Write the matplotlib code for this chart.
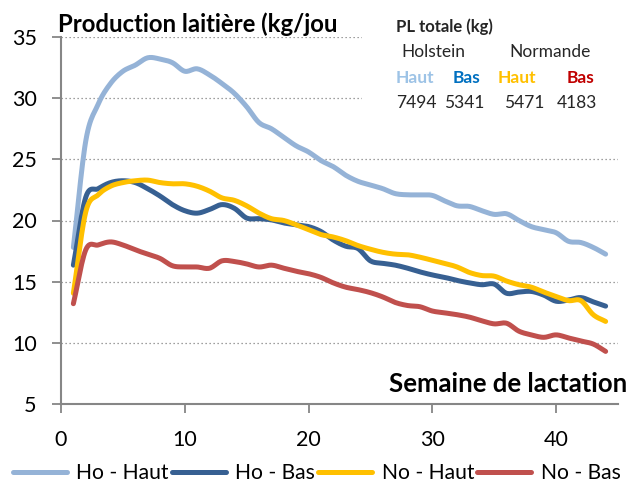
import numpy as np
import matplotlib
matplotlib.use("Agg")
import matplotlib.pyplot as plt
from matplotlib.lines import Line2D
from matplotlib.patches import Rectangle

weeks = list(range(1, 45))
ho_haut = [17.8, 26.5, 29.5, 31.2, 32.2, 32.7, 33.3, 33.2, 32.9, 32.2,
           32.4, 31.9, 31.2, 30.4, 29.3, 28.0, 27.5, 26.8, 26.1, 25.6,
           24.9, 24.4, 23.7, 23.2, 22.9, 22.6, 22.2, 22.1, 22.1, 22.05,
           21.6, 21.2, 21.15, 20.8, 20.5, 20.55, 20.0, 19.5, 19.25, 19.0,
           18.3, 18.2, 17.8, 17.25]
ho_bas = [16.35, 21.9, 22.6, 23.1, 23.25, 23.1, 22.6, 22.0, 21.3, 20.8,
          20.6, 20.9, 21.3, 21.0, 20.2, 20.15, 20.05, 19.8, 19.65, 19.5,
          19.1, 18.4, 17.9, 17.7, 16.7, 16.5, 16.35, 16.1, 15.8, 15.55,
          15.35, 15.1, 14.9, 14.75, 14.8, 14.05, 14.15, 14.2, 13.9, 13.4,
          13.5, 13.7, 13.35, 13.0]
no_haut = [14.05, 20.7, 22.1, 22.8, 23.1, 23.25, 23.3, 23.1, 23.0, 23.0,
           22.8, 22.4, 21.85, 21.65, 21.2, 20.6, 20.15, 20.0, 19.65, 19.25,
           18.85, 18.65, 18.35, 17.95, 17.65, 17.4, 17.25, 17.2, 17.0, 16.75,
           16.5, 16.2, 15.75, 15.5, 15.45, 15.05, 14.75, 14.55, 14.15, 13.8,
           13.45, 13.45, 12.3, 11.75]
no_bas = [13.2, 17.6, 18.0, 18.25, 18.0, 17.6, 17.25, 16.9, 16.3, 16.2,
          16.2, 16.1, 16.7, 16.65, 16.45, 16.2, 16.35, 16.1, 15.85, 15.65,
          15.35, 14.9, 14.55, 14.35, 14.1, 13.75, 13.3, 13.05, 12.95, 12.6,
          12.45, 12.3, 12.1, 11.8, 11.55, 11.6, 10.95, 10.65, 10.45, 10.65,
          10.4, 10.15, 9.9, 9.3]

series_names = ["Ho - Haut", "Ho - Bas", "No - Haut", "No - Bas"]
series_colors = ["#95B3D7", "#376092", "#FFC000", "#C0504D"]

x_ticks = [0, 10, 20, 30, 40]
y_ticks = [5, 10, 15, 20, 25, 30, 35]

title_text = "Production laitière (kg/jou"
xlabel_text = "Semaine de lactation"
box_title = "PL totale (kg)"
breeds = ["Holstein", "Normande"]
levels = ["Haut", "Bas", "Haut", "Bas"]
level_colors = ["#9DC3E6", "#0070C0", "#FFC000", "#C00000"]
totals = ["7494", "5341", "5471", "4183"]

FONT = "Lato"
plt.rcParams["font.family"] = [FONT, "DejaVu Sans"]


def smooth(x, y, n=12):
    """Catmull-Rom style smoothing of the drawn path (like Excel smoothed lines)."""
    x = np.asarray(x, float)
    y = np.asarray(y, float)
    px = np.concatenate([[2 * x[0] - x[1]], x, [2 * x[-1] - x[-2]]])
    py = np.concatenate([[2 * y[0] - y[1]], y, [2 * y[-1] - y[-2]]])
    xs, ys = [], []
    t = np.linspace(0, 1, n, endpoint=False)
    for i in range(1, len(px) - 2):
        p0, p1, p2, p3 = px[i - 1], px[i], px[i + 1], px[i + 2]
        q0, q1, q2, q3 = py[i - 1], py[i], py[i + 1], py[i + 2]
        bx = [p1, p1 + (p2 - p0) / 6, p2 - (p3 - p1) / 6, p2]
        by = [q1, q1 + (q2 - q0) / 6, q2 - (q3 - q1) / 6, q2]
        for arr, b in ((xs, bx), (ys, by)):
            arr.extend((1 - t) ** 3 * b[0] + 3 * (1 - t) ** 2 * t * b[1]
                       + 3 * (1 - t) * t ** 2 * b[2] + t ** 3 * b[3])
    xs.append(x[-1])
    ys.append(y[-1])
    return np.array(xs), np.array(ys)


W, H = 633, 484
fig = plt.figure(figsize=(W / 100, H / 100), dpi=100)
ax = fig.add_axes([61 / W, 1 - 404 / H, (618 - 61) / W, (404 - 37) / H])

for vals, col in zip([ho_haut, ho_bas, no_haut, no_bas], series_colors):
    sx, sy = smooth(weeks, vals)
    ax.plot(sx, sy, color=col, lw=3.6, solid_capstyle="round",
            solid_joinstyle="round", zorder=3)

ax.set_xlim(0, 45)
ax.set_ylim(5, 35)
ax.set_xticks(x_ticks)
ax.set_yticks(y_ticks)
ax.grid(axis="y", color="#808080", linestyle=(0, (1, 2.2)), lw=0.9)
ax.set_axisbelow(True)
for s in ["top", "right"]:
    ax.spines[s].set_visible(False)
for s in ["left", "bottom"]:
    ax.spines[s].set_color("#868686")
    ax.spines[s].set_linewidth(1.5)
ax.tick_params(axis="both", direction="out", length=6.5, width=1.3,
               color="#868686", labelsize=15.5, labelcolor="#000000")
ax.tick_params(axis="y", pad=11)
ax.tick_params(axis="x", pad=12)

# white box behind the total-production annotation
fig.add_artist(Rectangle((362 / W, 1 - 112 / H), (W - 362) / W, 112 / H,
                         transform=fig.transFigure, facecolor="white",
                         edgecolor="none", zorder=1))

fig.text(58 / W, 1 - 32 / H, title_text, fontsize=17.2, fontweight="bold",
         va="baseline", ha="left", zorder=2)
fig.text(627 / W, 1 - 392 / H, xlabel_text, fontsize=18.5, fontweight="bold",
         va="baseline", ha="right", zorder=2)

fig.text(396 / W, 1 - 32 / H, box_title, fontsize=12, fontweight="bold",
         color="#262626", va="baseline", ha="left", zorder=2)
fig.text(401 / W, 1 - 57 / H, breeds[0], fontsize=12.5, color="#262626",
         va="baseline", ha="left", zorder=2)
fig.text(509 / W, 1 - 57 / H, breeds[1], fontsize=12.5, color="#262626",
         va="baseline", ha="left", zorder=2)
level_x = [396, 453, 498, 567]
for lx, lab, col in zip(level_x, levels, level_colors):
    fig.text(lx / W, 1 - 83 / H, lab, fontsize=12.5, fontweight="bold",
             color=col, va="baseline", ha="left", zorder=2)
num_x = [396, 444, 504, 557]
for nx, lab in zip(num_x, totals):
    fig.text(nx / W, 1 - 108 / H, lab, fontsize=12.5, color="#262626",
             va="baseline", ha="left", zorder=2)

handles = [Line2D([0], [0], color=c, lw=3.6, solid_capstyle="round")
           for c in series_colors]
fig.legend(handles, series_names, loc="center left",
           bbox_to_anchor=(13 / W, 1 - 473 / H), ncol=4, frameon=False,
           fontsize=15.2, handlelength=2.55, handletextpad=0.45,
           columnspacing=0.15, borderpad=0, borderaxespad=0)

fig.savefig("out.png", dpi=100)
